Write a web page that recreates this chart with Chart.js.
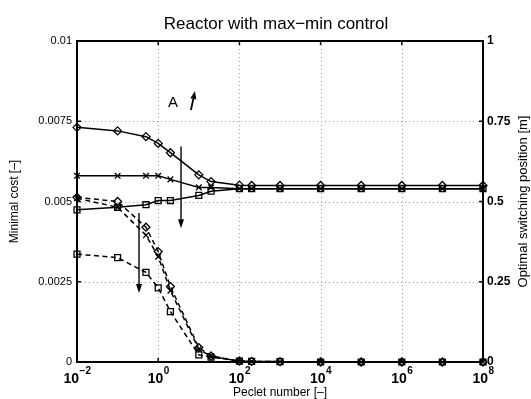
<!DOCTYPE html>
<html><head><meta charset="utf-8">
<script src="https://cdn.jsdelivr.net/npm/chart.js@4.4.0/dist/chart.umd.min.js"></script>
<style>html,body{margin:0;padding:0;background:#fff;}</style>
</head><body>
<canvas id="c" width="531" height="399" style="display:block;width:531px;height:399px"></canvas>
<script>
// ---- data ----
const chartTitle = 'Reactor with max\u2212min control';
const xAxisTitle = 'Peclet number [\u2013]';
const leftAxisTitle = 'Minimal cost [\u2013]';
const rightAxisTitle = 'Optimal switching position [m]';

const peclet = [0.01, 0.1, 0.5, 1, 2, 10, 20, 100, 200, 1000, 1e4, 1e5, 1e6, 1e7, 1e8];

// solid lines: minimal cost (left axis)
const costDiamond = [0.00731, 0.00720, 0.00702, 0.00681, 0.00652, 0.00583, 0.00562, 0.00551, 0.00550, 0.00550, 0.00550, 0.00550, 0.00550, 0.00550, 0.00550];
const costCross   = [0.00580, 0.00580, 0.00580, 0.00580, 0.00569, 0.00544, 0.00544, 0.00540, 0.00540, 0.00540, 0.00540, 0.00540, 0.00540, 0.00540, 0.00540];
const costSquare  = [0.00474, 0.00482, 0.00490, 0.00503, 0.00503, 0.00519, 0.00532, 0.00540, 0.00540, 0.00540, 0.00540, 0.00540, 0.00540, 0.00540, 0.00540];

// dashed lines: optimal switching position (right axis)
const posDiamond = [0.513, 0.500, 0.420, 0.344, 0.235, 0.045, 0.019, 0.003, 0.002, 0.001, 0, 0, 0, 0, 0];
const posCross   = [0.510, 0.482, 0.395, 0.328, 0.222, 0.040, 0.017, 0.003, 0.002, 0.001, 0, 0, 0, 0, 0];
const posSquare  = [0.336, 0.325, 0.279, 0.231, 0.157, 0.022, 0.015, 0.003, 0.002, 0.001, 0, 0, 0, 0, 0];

const xTickExponents = [-2, 0, 2, 4, 6, 8];
const leftTicks = [0, 0.0025, 0.005, 0.0075, 0.01];
const rightTicks = [0, 0.25, 0.5, 0.75, 1];

// annotation arrows (data coordinates: Peclet, cost)
const downArrowCost = {x: 3.65, from: 0.00671, to: 0.00417};
const downArrowPos  = {x: 0.337, from: 0.00464, to: 0.00215};
const upArrowA      = {x0: 6.4, y0: 0.00785, x1: 8.05, y1: 0.00844};
const labelA        = {x: 2.3, y: 0.00807, text: 'A'};

const FONT = '"Liberation Sans", Arial, Helvetica, sans-serif';

function ds(data, style, dashed, axis) {
  return {
    data: peclet.map((p, i) => ({x: p, y: data[i]})),
    yAxisID: axis,
    borderColor: '#000',
    backgroundColor: '#fff',
    borderWidth: 1.5,
    borderDash: dashed ? [5, 3.5] : [],
    pointStyle: style,
    pointRadius: style === 'rect' ? 4.2 : 4,
    pointBorderColor: '#000',
    pointBackgroundColor: 'rgba(255,255,255,0)',
    pointBorderWidth: 1.3,
    tension: 0,
    clip: false
  };
}

function arrow(ctx, x1, y1, x2, y2, hl, hw) {
  const a = Math.atan2(y2 - y1, x2 - x1);
  const bx = x2 - hl * Math.cos(a), by = y2 - hl * Math.sin(a);
  ctx.beginPath(); ctx.moveTo(x1, y1); ctx.lineTo(bx, by); ctx.stroke();
  ctx.beginPath();
  ctx.moveTo(x2, y2);
  ctx.lineTo(bx + hw * Math.sin(a), by - hw * Math.cos(a));
  ctx.lineTo(bx - hw * Math.sin(a), by + hw * Math.cos(a));
  ctx.closePath(); ctx.fill();
}

const framePlugin = {
  id: 'frame',
  beforeDatasetsDraw(chart) {
    const {ctx, chartArea: ca, scales} = chart;
    ctx.save();
    ctx.strokeStyle = '#a0a0a0';
    ctx.lineWidth = 1;
    ctx.setLineDash([1, 3]);
    xTickExponents.slice(1, -1).forEach(e => {
      const x = Math.round(scales.x.getPixelForValue(Math.pow(10, e))) + 0.5;
      ctx.beginPath(); ctx.moveTo(x, ca.top); ctx.lineTo(x, ca.bottom); ctx.stroke();
    });
    leftTicks.slice(1, -1).forEach(v => {
      const y = Math.round(scales.y.getPixelForValue(v)) + 0.5;
      ctx.beginPath(); ctx.moveTo(ca.left, y); ctx.lineTo(ca.right, y); ctx.stroke();
    });
    ctx.restore();
  },
  afterDatasetsDraw(chart) {
    const {ctx, chartArea: ca, scales} = chart;
    ctx.save();
    ctx.setLineDash([]);
    ctx.strokeStyle = '#000';
    ctx.fillStyle = '#000';
    // box
    ctx.lineWidth = 2;
    ctx.strokeRect(ca.left, ca.top, ca.right - ca.left, ca.bottom - ca.top);
    // inward ticks
    ctx.lineWidth = 1.5;
    xTickExponents.forEach(e => {
      const x = scales.x.getPixelForValue(Math.pow(10, e));
      ctx.beginPath();
      ctx.moveTo(x, ca.bottom); ctx.lineTo(x, ca.bottom - 4);
      ctx.moveTo(x, ca.top); ctx.lineTo(x, ca.top + 4);
      ctx.stroke();
    });
    leftTicks.forEach(v => {
      const y = scales.y.getPixelForValue(v);
      ctx.beginPath();
      ctx.moveTo(ca.left, y); ctx.lineTo(ca.left + 4, y);
      ctx.moveTo(ca.right, y); ctx.lineTo(ca.right - 4, y);
      ctx.stroke();
    });
    // x tick labels 10^e
    xTickExponents.forEach(e => {
      const x = scales.x.getPixelForValue(Math.pow(10, e));
      const base = '10';
      const sup = e < 0 ? '\u2212' + (-e) : String(e);
      ctx.font = 'bold 14px ' + FONT;
      const wb = ctx.measureText(base).width;
      ctx.font = 'bold 10px ' + FONT;
      const ws = ctx.measureText(sup).width;
      const x0 = x - (wb + ws) / 2;
      ctx.textBaseline = 'alphabetic';
      ctx.textAlign = 'left';
      ctx.font = 'bold 14px ' + FONT;
      ctx.fillText(base, x0, 383);
      ctx.font = 'bold 10px ' + FONT;
      ctx.fillText(sup, x0 + wb + 0.5, 374);
    });
    // titles
    ctx.textAlign = 'center';
    ctx.textBaseline = 'alphabetic';
    ctx.font = '17px ' + FONT;
    ctx.fillText(chartTitle, 276, 29);
    ctx.font = '12px ' + FONT;
    ctx.fillText(xAxisTitle, (ca.left + ca.right) / 2, 396);
    ctx.save();
    ctx.translate(18, (ca.top + ca.bottom) / 2);
    ctx.rotate(-Math.PI / 2);
    ctx.fillText(leftAxisTitle, 0, 0);
    ctx.restore();
    ctx.save();
    ctx.translate(527, (ca.top + ca.bottom) / 2);
    ctx.rotate(-Math.PI / 2);
    ctx.font = '13px ' + FONT;
    ctx.fillText(rightAxisTitle, 0, 0);
    ctx.restore();
    // arrows
    ctx.lineWidth = 1.4;
    const sx = scales.x, sy = scales.y;
    arrow(ctx, sx.getPixelForValue(downArrowCost.x), sy.getPixelForValue(downArrowCost.from),
               sx.getPixelForValue(downArrowCost.x), sy.getPixelForValue(downArrowCost.to), 9, 3);
    arrow(ctx, sx.getPixelForValue(downArrowPos.x), sy.getPixelForValue(downArrowPos.from),
               sx.getPixelForValue(downArrowPos.x), sy.getPixelForValue(downArrowPos.to), 9, 3);
    ctx.lineWidth = 1.8;
    arrow(ctx, sx.getPixelForValue(upArrowA.x0), sy.getPixelForValue(upArrowA.y0),
               sx.getPixelForValue(upArrowA.x1), sy.getPixelForValue(upArrowA.y1), 8, 3);
    ctx.font = '15px ' + FONT;
    ctx.textAlign = 'center';
    ctx.textBaseline = 'middle';
    ctx.fillText(labelA.text, sx.getPixelForValue(labelA.x), sy.getPixelForValue(labelA.y));
    ctx.restore();
  }
};

new Chart(document.getElementById('c'), {
  type: 'line',
  data: {
    datasets: [
      ds(costDiamond, 'rectRot', false, 'y'),
      ds(costCross, 'crossRot', false, 'y'),
      ds(costSquare, 'rect', false, 'y'),
      ds(posDiamond, 'rectRot', true, 'y1'),
      ds(posCross, 'crossRot', true, 'y1'),
      ds(posSquare, 'rect', true, 'y1')
    ]
  },
  options: {
    responsive: false,
    animation: false,
    events: [],
    layout: {padding: {top: 41, left: 0, right: 0, bottom: 0}},
    plugins: {legend: {display: false}, title: {display: false}, tooltip: {enabled: false}},
    scales: {
      x: {
        type: 'logarithmic', min: 0.01, max: 1e8,
        ticks: {display: false},
        grid: {display: false}, border: {display: false},
        afterFit: s => { s.height = 37; }
      },
      y: {
        position: 'left', min: 0, max: 0.01,
        afterBuildTicks: s => { s.ticks = leftTicks.map(v => ({value: v})); },
        ticks: {
          color: '#000', padding: 5,
          font: {family: FONT, size: 11},
          callback: v => String(parseFloat(Number(v).toFixed(4)))
        },
        grid: {display: false, drawTicks: false}, border: {display: false},
        afterFit: s => { s.width = 77; }
      },
      y1: {
        position: 'right', min: 0, max: 1,
        afterBuildTicks: s => { s.ticks = rightTicks.map(v => ({value: v})); },
        ticks: {
          color: '#000', padding: 4,
          font: {family: FONT, size: 12, weight: 'bold'},
          callback: v => String(parseFloat(Number(v).toFixed(2)))
        },
        grid: {display: false, drawTicks: false}, border: {display: false},
        afterFit: s => { s.width = 48; }
      }
    }
  },
  plugins: [framePlugin]
});
</script>
</body></html>
